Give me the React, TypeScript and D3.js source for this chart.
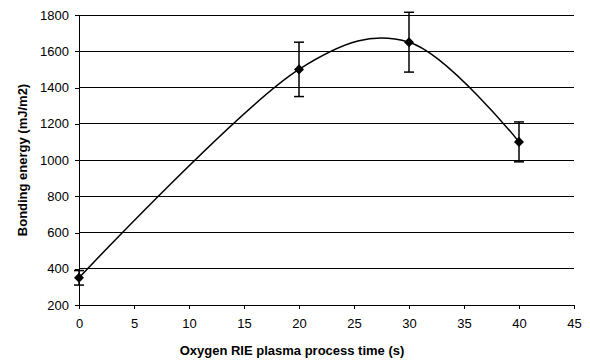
import { useEffect, useRef } from "react";
import * as d3 from "d3";

// process time (s) and bonding energy (mJ/m2)
const times = [0, 20, 30, 40];
const energy = [350, 1500, 1650, 1100];
const errors = [40, 150, 165, 110];
const yTicks = [200, 400, 600, 800, 1000, 1200, 1400, 1600, 1800];
const xTicks = [0, 5, 10, 15, 20, 25, 30, 35, 40, 45];

export default function App() {
  const gRef = useRef<SVGGElement>(null);

  const margin = { top: 15, left: 79, right: 16, bottom: 55 };
  const width = 590 - margin.left - margin.right;
  const height = 360 - margin.top - margin.bottom;

  const x = d3.scaleLinear().domain([0, 45]).range([0, width]);
  const y = d3.scaleLinear().domain([200, 1800]).range([height, 0]);

  useEffect(() => {
    const g = d3.select(gRef.current);
    const font = "Arial, 'Liberation Sans', sans-serif";

    // gridlines
    g.append("g")
      .selectAll("line")
      .data(yTicks.slice(1))
      .join("line")
      .attr("x1", 0)
      .attr("x2", width)
      .attr("y1", d => y(d))
      .attr("y2", d => y(d))
      .attr("stroke", "#000")
      .attr("stroke-width", 1)
      .attr("shape-rendering", "crispEdges");

    const yAxis = g.append("g")
      .call(d3.axisLeft(y).tickValues(yTicks).tickFormat(d3.format("d")).tickSize(4).tickPadding(6));
    const xAxis = g.append("g")
      .attr("transform", `translate(0, ${height})`)
      .call(d3.axisBottom(x).tickValues(xTicks).tickFormat(d3.format("d")).tickSize(4).tickPadding(10));

    [yAxis, xAxis].forEach(a => {
      a.select(".domain").attr("stroke", "#000").attr("shape-rendering", "crispEdges");
      a.selectAll(".tick line").attr("stroke", "#000").attr("shape-rendering", "crispEdges");
      a.selectAll("text").attr("font-family", font).attr("font-size", 13).attr("fill", "#000");
    });

    const pts = times.map((t, i) => ({ t, v: energy[i], e: errors[i] }));

    // smoothed line
    const line = d3.line<{ t: number; v: number }>()
      .x(d => x(d.t))
      .y(d => y(d.v))
      .curve(d3.curveCatmullRom.alpha(0.25));
    g.append("path")
      .datum(pts)
      .attr("d", line)
      .attr("fill", "none")
      .attr("stroke", "#000")
      .attr("stroke-width", 1.5);

    // error bars
    const eb = g.append("g").attr("stroke", "#000").attr("stroke-width", 1.5);
    pts.forEach(p => {
      const cx = x(p.t);
      eb.append("line").attr("x1", cx).attr("x2", cx).attr("y1", y(p.v - p.e)).attr("y2", y(p.v + p.e));
      eb.append("line").attr("x1", cx - 5).attr("x2", cx + 5).attr("y1", y(p.v - p.e)).attr("y2", y(p.v - p.e));
      eb.append("line").attr("x1", cx - 5).attr("x2", cx + 5).attr("y1", y(p.v + p.e)).attr("y2", y(p.v + p.e));
    });

    // diamond markers
    g.append("g")
      .selectAll("path")
      .data(pts)
      .join("path")
      .attr("d", d3.symbol(d3.symbolDiamond2, 64))
      .attr("transform", d => `translate(${x(d.t)}, ${y(d.v)})`)
      .attr("fill", "#000");

    g.append("text")
      .attr("x", 292 - margin.left)
      .attr("y", 355 - margin.top)
      .attr("text-anchor", "middle")
      .attr("font-family", font)
      .attr("font-size", 13)
      .attr("font-weight", "bold")
      .text("Oxygen RIE plasma process time (s)");

    g.append("text")
      .attr("transform", `translate(${27 - margin.left}, ${height / 2}) rotate(-90)`)
      .attr("text-anchor", "middle")
      .attr("font-family", font)
      .attr("font-size", 13)
      .attr("font-weight", "bold")
      .text("Bonding energy (mJ/m2)");

    return () => { g.selectAll("*").remove(); };
  }, []);

  return (
    <svg width={590} height={360} style={{ position: "absolute", left: 0, top: 0, background: "#fff" }}>
      <g ref={gRef} transform={`translate(${margin.left}, ${margin.top})`}></g>
    </svg>
  );
}
